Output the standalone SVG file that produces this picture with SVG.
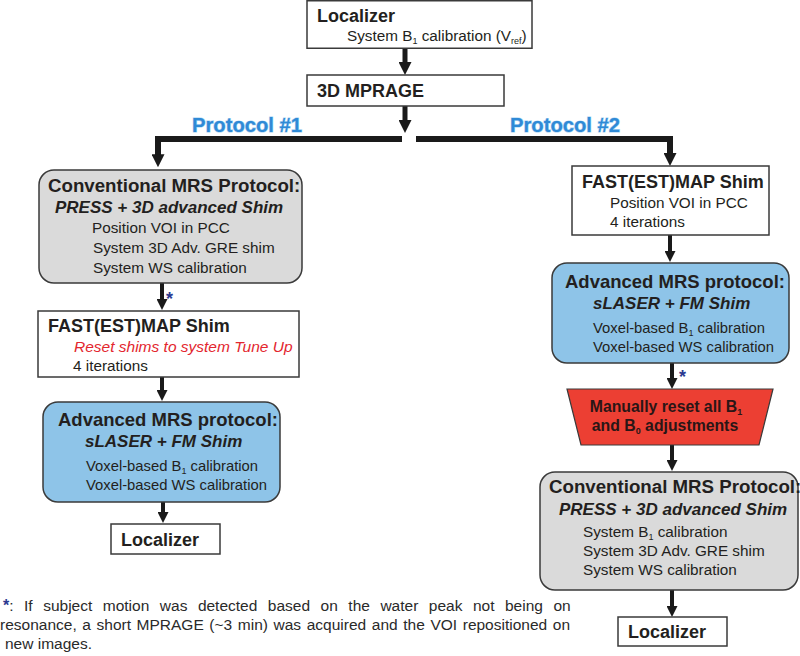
<svg xmlns="http://www.w3.org/2000/svg" width="800" height="656" viewBox="0 0 800 656">
<style>
  text { font-family: "Liberation Sans", Arial, sans-serif; fill: #231f20; }
  .h { font-weight: bold; font-size: 18px; }
  .hc { font-weight: bold; font-size: 18.7px; }
  .ha { font-weight: bold; font-size: 18.5px; }
  .bi { font-weight: bold; font-style: italic; font-size: 17px; }
  .r { font-size: 15.3px; }
  .v { font-size: 14.8px; }
  .red { font-style: italic; font-size: 15.5px; fill: #e3262e; }
  .proto { font-weight: bold; font-size: 21px; fill: #2f8ad6; stroke: #a9d3f2; stroke-width: 1.2px; paint-order: stroke; }
  .star { font-weight: bold; font-size: 18px; fill: #2b3990; }
  .foot { font-size: 15.5px; fill: #2a2a2a; }
  .trtext { font-weight: bold; font-size: 15.8px; fill: #2a1616; }
  .box { fill: #ffffff; stroke: #3a3a3a; stroke-width: 1.5; }
  .gray { fill: #dadada; stroke: #3a3a3a; stroke-width: 1.5; }
  .blue { fill: #8ec4e8; stroke: #3a3a3a; stroke-width: 1.5; }
  .trap { fill: #ec3f33; stroke: #3a3a3a; stroke-width: 1.2; }
  .ln { fill: none; stroke: #1a1a1a; stroke-width: 4; }
  .lnb { fill: none; stroke: #1a1a1a; stroke-width: 5; }
  .bar { fill: none; stroke: #1a1a1a; stroke-width: 6; }
</style>
<defs>
  <marker id="ah" viewBox="0 0 10 10" refX="4" refY="5" markerWidth="11" markerHeight="11" markerUnits="userSpaceOnUse" orient="auto">
    <path d="M0,0 L10,5 L0,10 z" fill="#1a1a1a"/>
  </marker>
  <marker id="ahb" viewBox="0 0 10 10" refX="4" refY="5" markerWidth="13" markerHeight="13" markerUnits="userSpaceOnUse" orient="auto">
    <path d="M0,0 L10,5 L0,10 z" fill="#1a1a1a"/>
  </marker>
</defs>

<g id="connectors">
  <path class="lnb" d="M405,48 V67.2" marker-end="url(#ahb)"/>
  <path class="lnb" d="M405,106 V125.2" marker-end="url(#ahb)"/>
  <path class="bar" d="M402,139 H158 V159.4" marker-end="url(#ahb)"/>
  <path class="bar" d="M416,139 H670 V158.2" marker-end="url(#ahb)"/>
  <path class="ln" d="M162,283 V303.4" marker-end="url(#ah)"/>
  <path class="ln" d="M162,377 V394.4" marker-end="url(#ah)"/>
  <path class="ln" d="M163,502 V516.4" marker-end="url(#ah)"/>
  <path class="ln" d="M670,235 V255.4" marker-end="url(#ah)"/>
  <path class="ln" d="M672,363 V382.4" marker-end="url(#ah)"/>
  <path class="ln" d="M672,445 V464.4" marker-end="url(#ah)"/>
  <path class="ln" d="M672,590 V610.4" marker-end="url(#ah)"/>
  <text class="star" x="166" y="305">*</text>
  <text class="star" x="679" y="383">*</text>
  <text class="proto" x="192" y="132" textLength="110" lengthAdjust="spacingAndGlyphs">Protocol #1</text>
  <text class="proto" x="510" y="132" textLength="110" lengthAdjust="spacingAndGlyphs">Protocol #2</text>
</g>

<g id="localizer-top">
  <rect class="box" x="307" y="0.75" width="225" height="47.5"/>
  <text class="h" x="317" y="22">Localizer</text>
  <text class="r" x="347" y="41">System B<tspan font-size="9" dy="3">1</tspan><tspan dy="-3"> calibration (V</tspan><tspan font-size="9" dy="3">ref</tspan><tspan dy="-3">)</tspan></text>
</g>

<g id="mprage">
  <rect class="box" x="307" y="75" width="197" height="31"/>
  <text class="h" x="317" y="97">3D MPRAGE</text>
</g>

<g id="left-conventional">
  <rect class="gray" x="39" y="170" width="263" height="113" rx="15"/>
  <text class="hc" x="48" y="192">Conventional MRS Protocol:</text>
  <text class="bi" x="55" y="213">PRESS + 3D advanced Shim</text>
  <text class="r" x="92" y="233">Position VOI in PCC</text>
  <text class="r" x="93" y="253">System 3D Adv. GRE shim</text>
  <text class="r" x="93" y="273">System WS calibration</text>
</g>

<g id="left-fastestmap">
  <rect class="box" x="38" y="311" width="261" height="66"/>
  <text class="h" x="48" y="332">FAST(EST)MAP Shim</text>
  <text class="red" x="74" y="352">Reset shims to system Tune Up</text>
  <text class="r" x="73" y="371">4 iterations</text>
</g>

<g id="left-advanced">
  <rect class="blue" x="43" y="402" width="237" height="100" rx="15"/>
  <text class="ha" x="58" y="426">Advanced MRS protocol:</text>
  <text class="bi" x="85" y="447">sLASER + FM Shim</text>
  <text class="v" x="86" y="471">Voxel-based B<tspan font-size="9" dy="3">1</tspan><tspan dy="-3"> calibration</tspan></text>
  <text class="v" x="86" y="490">Voxel-based WS calibration</text>
</g>

<g id="left-localizer">
  <rect class="box" x="111" y="524" width="109" height="30"/>
  <text class="h" x="121" y="546">Localizer</text>
</g>

<g id="right-fastestmap">
  <rect class="box" x="572" y="166" width="197" height="69"/>
  <text class="h" x="582" y="188">FAST(EST)MAP Shim</text>
  <text class="r" x="610" y="208">Position VOI in PCC</text>
  <text class="r" x="610" y="227">4 iterations</text>
</g>

<g id="right-advanced">
  <rect class="blue" x="552" y="263" width="237" height="100" rx="15"/>
  <text class="ha" x="565" y="288">Advanced MRS protocol:</text>
  <text class="bi" x="593" y="309">sLASER + FM Shim</text>
  <text class="v" x="593" y="333">Voxel-based B<tspan font-size="9" dy="3">1</tspan><tspan dy="-3"> calibration</tspan></text>
  <text class="v" x="593" y="352">Voxel-based WS calibration</text>
</g>

<g id="right-reset">
  <polygon class="trap" points="567,389 773,389 759,445 581,445"/>
  <text class="trtext" x="666" y="412" text-anchor="middle">Manually reset all B<tspan font-size="9" dy="3">1</tspan></text>
  <text class="trtext" x="665" y="431" text-anchor="middle">and B<tspan font-size="9" dy="3">0</tspan><tspan dy="-3"> adjustments</tspan></text>
</g>

<g id="right-conventional">
  <rect class="gray" x="540" y="472" width="258" height="118" rx="15"/>
  <text class="hc" x="549" y="493">Conventional MRS Protocol:</text>
  <text class="bi" x="559" y="515">PRESS + 3D advanced Shim</text>
  <text class="r" x="583" y="537">System B<tspan font-size="9" dy="3">1</tspan><tspan dy="-3"> calibration</tspan></text>
  <text class="r" x="583" y="556">System 3D Adv. GRE shim</text>
  <text class="r" x="583" y="575">System WS calibration</text>
</g>

<g id="right-localizer">
  <rect class="box" x="618" y="617" width="109" height="29"/>
  <text class="h" x="628" y="638">Localizer</text>
</g>

<g id="footnote">
  <text class="foot" x="3" y="611" word-spacing="6.2"><tspan class="star" style="font-size:16px">*</tspan>: If subject motion was detected based on the water peak not being on</text>
  <text class="foot" x="0" y="630" word-spacing="1.3">resonance, a short MPRAGE (~3 min) was acquired and the VOI repositioned on</text>
  <text class="foot" x="5" y="649">new images.</text>
</g>
</svg>
